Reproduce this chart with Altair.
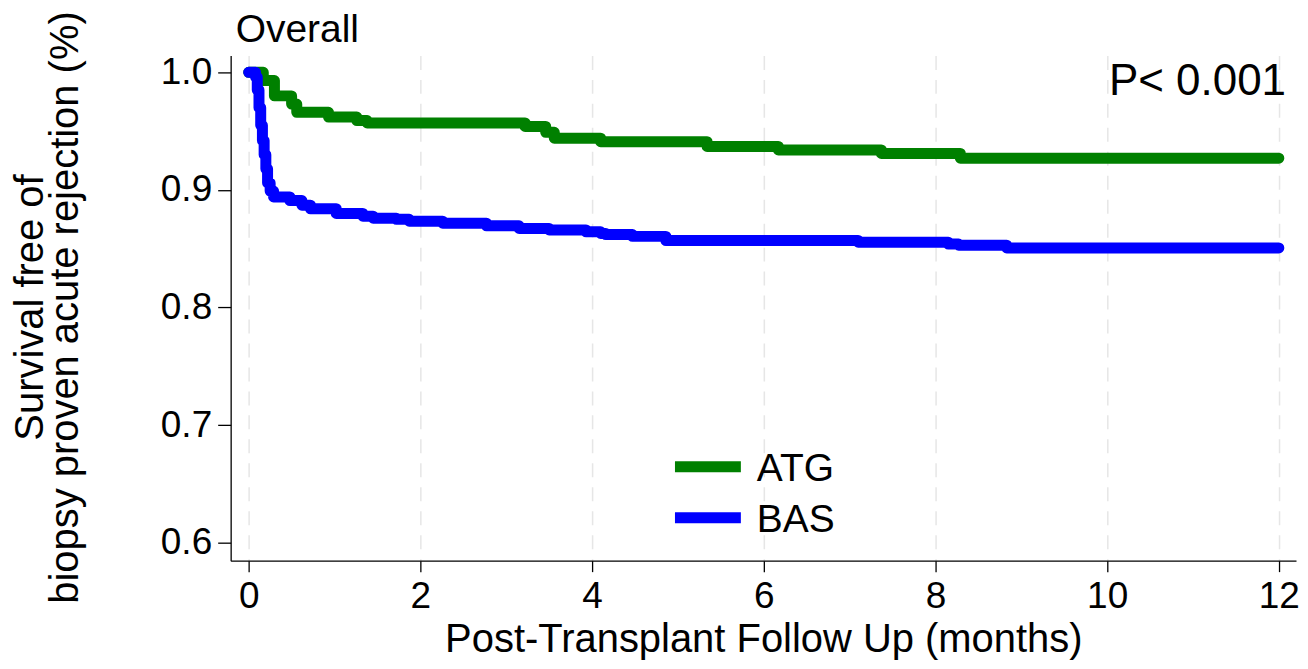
import altair as alt
import pandas as pd

# ATG arm (green) Kaplan-Meier steps
atg_t = [0.0, 0.17, 0.30, 0.50, 0.56, 0.93, 1.26, 1.38, 3.22, 3.46, 3.56, 4.10, 5.34, 6.17, 7.37, 8.29, 12.0]
atg_s = [1.0, 0.993, 0.980, 0.973, 0.966, 0.962, 0.959, 0.957, 0.954, 0.949, 0.944, 0.941, 0.937, 0.934, 0.931, 0.927, 0.927]

# BAS arm (blue) Kaplan-Meier steps
bas_t = [0.0, 0.08, 0.10, 0.12, 0.14, 0.16, 0.18, 0.20, 0.22, 0.25, 0.29, 0.48, 0.62, 0.72, 1.02, 1.33,
         1.45, 1.72, 1.87, 2.26, 2.77, 3.15, 3.50, 3.93, 4.10, 4.16, 4.47, 4.86, 7.10, 8.15, 8.27, 8.83, 12.0]
bas_s = [1.0, 0.996, 0.985, 0.970, 0.955, 0.942, 0.930, 0.918, 0.906, 0.899, 0.894, 0.891, 0.887, 0.884, 0.880, 0.8777,
         0.876, 0.875, 0.8734, 0.8717, 0.8695, 0.8673, 0.866, 0.8644, 0.863, 0.862, 0.8605, 0.857, 0.8556, 0.854, 0.853, 0.8507, 0.8507]

groups = ["ATG", "BAS"]
colors = ["#008000", "#0000ff"]
x_ticks = [0, 2, 4, 6, 8, 10, 12]
y_ticks = [0.6, 0.7, 0.8, 0.9, 1.0]
p_text = ["P< 0.001"]
panel_title = ["Overall"]

df = pd.concat([
    pd.DataFrame({"t": atg_t, "s": atg_s, "grp": groups[0]}),
    pd.DataFrame({"t": bas_t, "s": bas_s, "grp": groups[1]}),
], ignore_index=True)
legend_df = pd.DataFrame({"grp": groups})

FONT = "Liberation Sans"
LFS = 37   # tick labels
TFS = 40   # axis titles
GFS = 39   # legend / panel title

color_scale = alt.Scale(domain=groups, range=colors)

lines = alt.Chart(df).mark_line(
    interpolate="step-after", strokeWidth=11, strokeCap="round", strokeJoin="round"
).encode(
    x=alt.X("t:Q",
            scale=alt.Scale(domain=[-0.21, 12.2], nice=False, zero=False),
            axis=alt.Axis(values=x_ticks, format="d",
                          title="Post-Transplant Follow Up (months)",
                          grid=True, gridColor="#e6e6e6", gridDash=[14, 10], gridWidth=1.5,
                          tickSize=11, tickColor="black", tickWidth=1.3,
                          domainColor="black", domainWidth=1.3,
                          labelFont=FONT, labelFontSize=LFS, labelColor="black", labelPadding=7,
                          titleFont=FONT, titleFontSize=TFS, titleFontWeight="normal", titleColor="black",
                          titlePadding=5)),
    y=alt.Y("s:Q",
            scale=alt.Scale(domain=[0.5847, 1.0144], nice=False, zero=False),
            axis=alt.Axis(values=y_ticks, format=".1f",
                          title=["Survival free of", "biopsy proven acute rejection (%)"],
                          grid=False,
                          tickSize=13, tickColor="black", tickWidth=1.3,
                          domainColor="black", domainWidth=1.3,
                          labelFont=FONT, labelFontSize=LFS, labelColor="black", labelPadding=6,
                          titleFont=FONT, titleFontSize=TFS, titleFontWeight="normal", titleColor="black",
                          titleAngle=-90, titleAlign="center", titleBaseline="middle",
                          titleX=-200, titleY=252, titleLineHeight=35)),
    color=alt.Color("grp:N", scale=color_scale, legend=None),
)

# manual legend (rows placed through a point scale)
leg_y = alt.Y("grp:N", scale=alt.Scale(type="point", domain=groups, range=[412, 463], padding=0), axis=None)
leg_rules = alt.Chart(legend_df).mark_rule(strokeWidth=11, strokeCap="butt").encode(
    x=alt.value(445), x2=alt.value(511), y=leg_y,
    color=alt.Color("grp:N", scale=color_scale, legend=None),
)
leg_text = alt.Chart(legend_df).mark_text(
    align="left", baseline="middle", font=FONT, fontSize=GFS, color="black", dy=2
).encode(x=alt.value(527), y=leg_y, text="grp:N")

ptext = alt.Chart(pd.DataFrame({"label": p_text})).mark_text(
    align="right", baseline="alphabetic", font=FONT, fontSize=44, color="black"
).encode(x=alt.value(1057), y=alt.value(40), text="label:N")

ttext = alt.Chart(pd.DataFrame({"label": panel_title})).mark_text(
    align="left", baseline="alphabetic", font=FONT, fontSize=GFS, color="black"
).encode(x=alt.value(5), y=alt.value(-13), text="label:N")

chart = alt.layer(lines, leg_rules, leg_text, ptext, ttext).resolve_scale(
    y="independent"
).properties(
    width=1067, height=506,
    autosize=alt.AutoSizeParams(type="none"),
    padding={"left": 223, "top": 47, "right": 4, "bottom": 100},
    background="white",
).configure_view(stroke=None)

chart.save("out.html", embed_options={"renderer": "svg", "actions": False})
